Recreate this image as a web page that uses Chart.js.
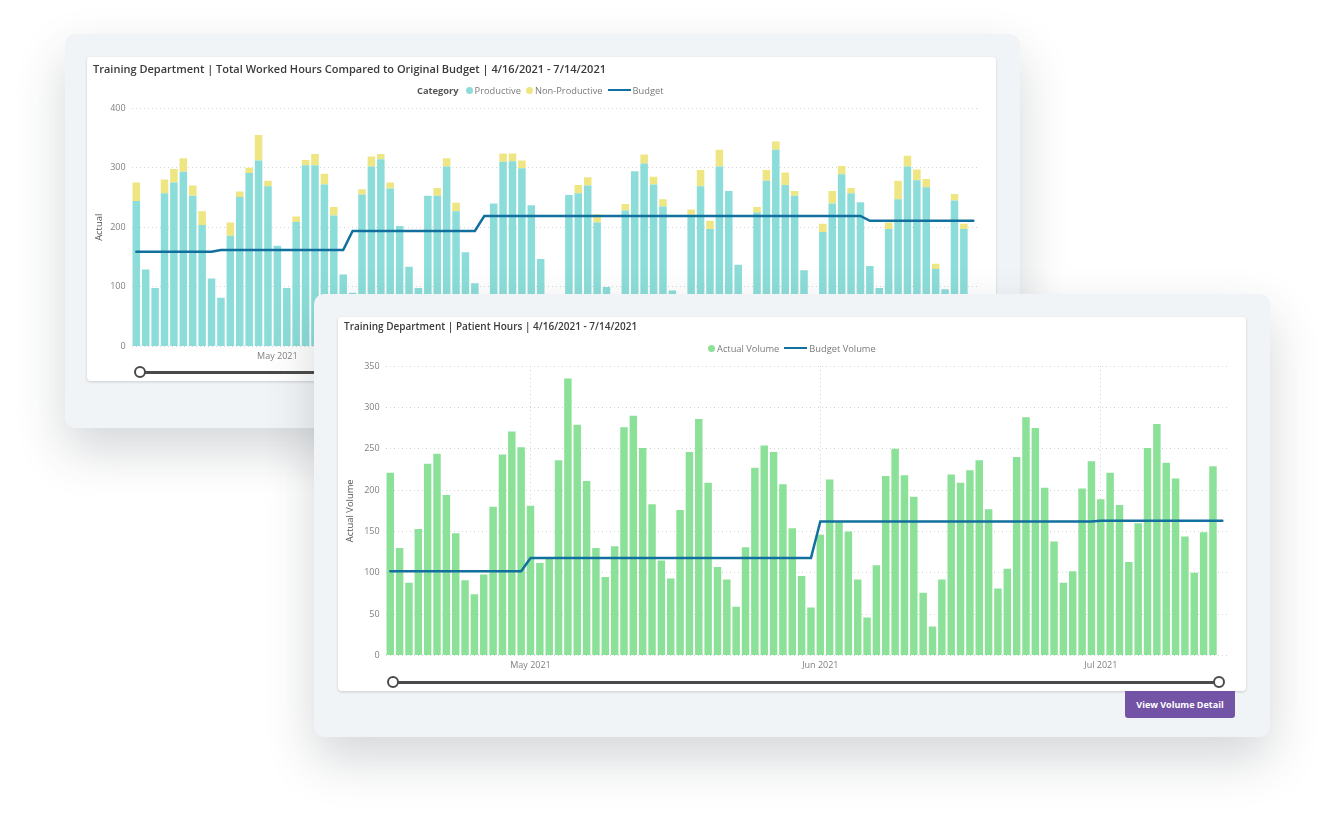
<!DOCTYPE html>
<html>
<head>
<meta charset="utf-8">
<script src="https://cdn.jsdelivr.net/npm/chart.js@4"></script>
<style>
  html, body { margin: 0; padding: 0; background: #fff; }
  #page { position: relative; width: 1335px; height: 831px; overflow: hidden; font-family: "Open Sans", sans-serif; filter: blur(0.4px); }
  .panel { position: absolute; background: #f1f4f7; border-radius: 10px; box-shadow: 0 22px 50px rgba(40, 50, 60, 0.2); }
  .card { position: absolute; background: #fff; border-radius: 4px; box-shadow: 0 1px 3px rgba(0, 0, 0, 0.16); }
  canvas { position: absolute; display: block; }
  .legend { position: absolute; height: 12px; display: flex; align-items: center; font-size: 9.3px; color: #7a7a7a; white-space: nowrap; }
  .legend b { color: #555; font-weight: 700; margin-right: 7px; }
  .legend .dot { width: 7px; height: 7px; border-radius: 50%; margin-right: 2px; }
  .legend .dash { width: 23px; height: 2px; margin-right: 2px; }
  .legend span.label { margin-right: 5px; }
  .track { position: absolute; height: 3px; background: #4a4a4a; border-radius: 2px; }
  .knob { position: absolute; width: 8px; height: 8px; background: #fff; border: 2px solid #4a4a4a; border-radius: 50%; }
  #detail { position: absolute; left: 1125px; top: 691px; width: 110px; height: 27px; line-height: 27px; background: #7353a6; color: #fff; font-size: 9px; font-weight: 700; text-align: center; border-radius: 0 0 3px 3px; }
</style>
</head>
<body>
<div id="page">
  <div class="panel" style="left:65px;top:34px;width:955px;height:394px"></div>
  <div class="card" style="left:87px;top:57px;width:909px;height:324px"></div>
  <canvas id="hours" width="885" height="310" style="left:93px;top:61px"></canvas>
  <div class="legend" id="hoursLegend" style="left:417px;top:84px"></div>
  <div class="track" style="left:140px;top:371px;width:200px"></div>
  <div class="knob" style="left:134px;top:366px"></div>

  <div class="panel" style="left:314px;top:294px;width:956px;height:443px"></div>
  <div class="card" style="left:338px;top:317px;width:908px;height:374px"></div>
  <canvas id="volume" width="883" height="361" style="left:344px;top:319px"></canvas>
  <div class="legend" id="volumeLegend" style="left:708px;top:342px"></div>
  <div class="track" style="left:393px;top:681px;width:826px"></div>
  <div class="knob" style="left:387px;top:676px"></div>
  <div class="knob" style="left:1213px;top:676px"></div>
  <div id="detail">View Volume Detail</div>
</div>
<script>
const days = [
  '4/16','4/17','4/18','4/19','4/20','4/21','4/22','4/23','4/24','4/25','4/26','4/27','4/28','4/29','4/30',
  '5/1','5/2','5/3','5/4','5/5','5/6','5/7','5/8','5/9','5/10','5/11','5/12','5/13','5/14','5/15','5/16',
  '5/17','5/18','5/19','5/20','5/21','5/22','5/23','5/24','5/25','5/26','5/27','5/28','5/29','5/30','5/31',
  '6/1','6/2','6/3','6/4','6/5','6/6','6/7','6/8','6/9','6/10','6/11','6/12','6/13','6/14','6/15','6/16',
  '6/17','6/18','6/19','6/20','6/21','6/22','6/23','6/24','6/25','6/26','6/27','6/28','6/29','6/30',
  '7/1','7/2','7/3','7/4','7/5','7/6','7/7','7/8','7/9','7/10','7/11','7/12','7/13','7/14'
];
const monthLabels = { '5/1': 'May 2021', '6/1': 'Jun 2021', '7/1': 'Jul 2021' };

// top chart, worked hours (bars under the front panel are estimates)
const productive = [
  244,129,98,257,275,293,253,204,114,82,186,251,291,312,269,
  169,98,209,304,304,272,220,121,90,255,302,314,265,202,134,98,
  253,253,302,227,158,106,75,240,310,311,299,237,147,70,55,
  254,257,270,208,100,70,228,294,307,272,235,94,65,221,269,197,
  302,261,137,60,225,278,330,271,253,128,70,192,240,289,
  257,242,135,98,197,247,302,279,267,130,96,245,197,null
];
const nonProductive = [
  31,0,0,23,23,23,17,23,0,0,22,9,9,43,9,
  0,0,9,9,19,18,14,0,0,9,17,9,10,0,0,0,
  0,13,14,14,0,0,0,0,14,13,13,0,0,0,0,
  0,14,14,14,0,0,11,0,15,13,12,0,0,9,27,14,
  28,0,0,0,9,18,14,21,8,0,0,14,21,14,
  9,0,0,0,11,31,18,18,14,9,0,11,9,null
];
const budget = [
  159,159,159,159,159,159,159,159,159,162,162,162,162,162,162,
  162,162,162,162,162,162,162,162,194,194,194,194,194,194,194,194,
  194,194,194,194,194,194,219,219,219,219,219,219,219,219,219,
  219,219,219,219,219,219,219,219,219,219,219,219,219,219,219,219,
  219,219,219,219,219,219,219,219,219,219,219,219,219,219,
  219,219,211,211,211,211,211,211,211,211,211,211,211,211
];

// front chart, patient hours
const actualVolume = [
  221,130,88,153,232,244,194,148,91,74,98,180,243,271,252,
  181,112,117,236,335,279,211,130,95,132,276,290,251,183,115,93,
  176,246,286,209,107,92,59,131,227,254,246,207,154,96,58,
  146,213,161,150,92,46,109,217,250,218,192,76,35,92,219,209,
  224,236,177,81,105,240,288,275,203,138,88,102,202,235,
  189,221,182,113,160,251,280,233,214,144,100,149,229,null
];
const budgetVolume = [
  102,102,102,102,102,102,102,102,102,102,102,102,102,102,102,
  118,118,118,118,118,118,118,118,118,118,118,118,118,118,118,118,
  118,118,118,118,118,118,118,118,118,118,118,118,118,118,118,
  162,162,162,162,162,162,162,162,162,162,162,162,162,162,162,162,
  162,162,162,162,162,162,162,162,162,162,162,162,162,162,
  163,163,163,163,163,163,163,163,163,163,163,163,163,163
];

const tealColor = '#8cddd9';
const yellowColor = '#eee583';
const greenColor = '#8ce198';
const lineColor = '#12709f';
const uiFont = "'Open Sans', sans-serif";

function axisFont(size) {
  return { family: uiFont, size: size };
}

function barSet(label, data, color) {
  return {
    type: 'bar', label: label, data: data, backgroundColor: color,
    categoryPercentage: 1, barPercentage: 0.8, order: 2
  };
}

function lineSet(label, data) {
  return {
    type: 'line', label: label, data: data, borderColor: lineColor,
    borderWidth: 2.5, borderCapStyle: 'round', pointRadius: 0, tension: 0, order: 1
  };
}

function drawChart(id, titleText, titleSize, titleGap, yTitle, yMax, yStep, yWidth, verticalGrid, datasets) {
  return new Chart(document.getElementById(id), {
    data: { labels: days, datasets: datasets },
    options: {
      responsive: false,
      animation: false,
      layout: { padding: 0 },
      plugins: {
        legend: { display: false },
        tooltip: { enabled: false },
        title: {
          display: true,
          text: titleText,
          align: 'start',
          color: '#3a3a3a',
          font: { family: uiFont, size: titleSize, weight: '600' },
          padding: { top: 2.5, bottom: titleGap }
        }
      },
      scales: {
        x: {
          stacked: true,
          afterFit: scale => { scale.height = 24.5; },
          border: { display: false, dash: [1, 3] },
          grid: {
            offset: false,
            drawTicks: false,
            color: ctx => (verticalGrid && ctx.tick && ctx.tick.label) ? '#d4d4d4' : 'transparent'
          },
          ticks: {
            autoSkip: false,
            maxRotation: 0,
            padding: 5,
            color: '#808080',
            font: axisFont(9),
            callback: function (value) {
              return monthLabels[this.getLabelForValue(value)] || null;
            }
          }
        },
        y: {
          stacked: true,
          min: 0,
          max: yMax,
          afterFit: scale => { scale.width = yWidth; },
          border: { display: false, dash: [1, 3] },
          grid: { color: '#d4d4d4', drawTicks: false },
          ticks: { stepSize: yStep, padding: 6, color: '#808080', font: axisFont(9) },
          title: { display: true, text: yTitle, color: '#555', font: axisFont(9.4), padding: { top: 1, bottom: 0 } }
        }
      }
    }
  });
}

function buildLegend(id, heading, items) {
  const box = document.getElementById(id);
  if (heading) {
    const b = document.createElement('b');
    b.textContent = heading;
    box.appendChild(b);
  }
  items.forEach(item => {
    const mark = document.createElement('i');
    mark.className = item.line ? 'dash' : 'dot';
    mark.style.background = item.color;
    const text = document.createElement('span');
    text.className = 'label';
    text.textContent = item.label;
    box.appendChild(mark);
    box.appendChild(text);
  });
}

drawChart('hours', 'Training Department | Total Worked Hours Compared to Original Budget | 4/16/2021 - 7/14/2021',
  11, 31.4, 'Actual', 400, 100, 38.6, false, [
    barSet('Productive', productive, tealColor),
    barSet('Non-Productive', nonProductive, yellowColor),
    lineSet('Budget', budget)
  ]);

drawChart('volume', 'Training Department | Patient Hours | 4/16/2021 - 7/14/2021',
  10, 32.6, 'Actual Volume', 350, 50, 41.6, true, [
    barSet('Actual Volume', actualVolume, greenColor),
    lineSet('Budget Volume', budgetVolume)
  ]);

buildLegend('hoursLegend', 'Category', [
  { label: 'Productive', color: tealColor },
  { label: 'Non-Productive', color: yellowColor },
  { label: 'Budget', color: lineColor, line: true }
]);
buildLegend('volumeLegend', null, [
  { label: 'Actual Volume', color: greenColor },
  { label: 'Budget Volume', color: lineColor, line: true }
]);
</script>
</body>
</html>
